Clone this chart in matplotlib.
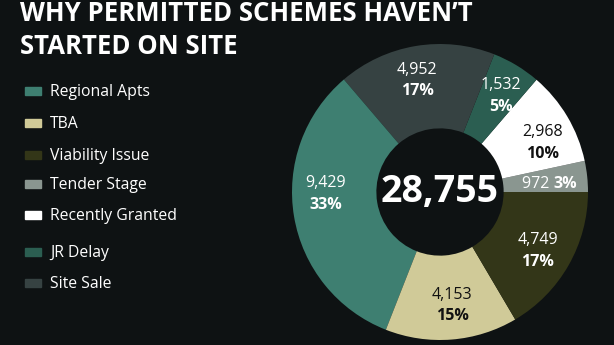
import numpy as np
import matplotlib.pyplot as plt

# data, counterclockwise from 3 o'clock
categories = ['Tender Stage', 'Recently Granted', 'JR Delay', 'Site Sale',
              'Regional Apts', 'TBA', 'Viability Issue']
values = [972, 2968, 1532, 4952, 9429, 4153, 4749]
percents = [3, 10, 5, 17, 33, 15, 17]   # as printed on the chart
colours = ['#8a9690', '#ffffff', '#2b5e51', '#364242',
           '#3e7f71', '#d0ca98', '#333618']
text_dark = [False, True, False, False, False, True, False]
label_nudge = [-2, -5, -1, 2, -8.5, 1.5, -1.5]   # degrees, label placement tweak
legend_order = ['Regional Apts', 'TBA', 'Viability Issue', 'Tender Stage',
                'Recently Granted', 'JR Delay', 'Site Sale']
legend_y = [91, 123, 155, 184, 215, 252, 283]  # pixel rows

bg = '#0e1213'
plt.rcParams['font.family'] = ['Open Sans', 'DejaVu Sans']

W, H = 614, 345
fig = plt.figure(figsize=(W / 100, H / 100), dpi=100, facecolor=bg)

# title
fig.text(20 / W, 1 - 21 / H, 'WHY PERMITTED SCHEMES HAVEN\u2019T', color='white',
         fontsize=18.5, fontweight='bold', va='baseline', ha='left')
fig.text(20 / W, 1 - 54 / H, 'STARTED ON SITE', color='white',
         fontsize=18.5, fontweight='bold', va='baseline', ha='left')

# legend
for name, y in zip(legend_order, legend_y):
    c = colours[categories.index(name)]
    fig.patches.append(plt.Rectangle((25 / W, 1 - (y + 4) / H), 16 / W, 8 / H,
                                     transform=fig.transFigure, color=c))
    fig.text(50 / W, 1 - (y + 1) / H, name, color='white', fontsize=11.3,
             va='center', ha='left')

# donut
cx, cy, R = 440, 192, 148
ax = fig.add_axes([(cx - R) / W, (H - cy - R) / H, 2 * R / W, 2 * R / H])
ax.set_facecolor(bg)
wedges, _ = ax.pie(values, colors=colours, startangle=0, counterclock=True,
                   radius=1, wedgeprops=dict(width=0.57, linewidth=0))
ax.set_xlim(-1, 1)
ax.set_ylim(-1, 1)
ax.axis('off')

total = sum(values)
ax.text(0, 0, f'{total:,}', color='white', fontsize=27, fontweight='bold',
        ha='center', va='center')

for w, v, p, dark, nudge in zip(wedges, values, percents, text_dark, label_nudge):
    ang = np.deg2rad((w.theta1 + w.theta2) / 2 + nudge)
    x, y = 0.77 * np.cos(ang), 0.77 * np.sin(ang)
    col = '#111111' if dark else 'white'
    if v < 1500:
        ax.text(x, y, f'{v:,} ', color=col, fontsize=11.5, ha='right', va='center')
        ax.text(x, y, f'{p}%', color=col, fontsize=11.5, fontweight='bold',
                ha='left', va='center')
    else:
        ax.text(x, y + 0.072, f'{v:,}', color=col, fontsize=11.5, ha='center', va='center')
        ax.text(x, y - 0.075, f'{p}%', color=col, fontsize=11.5, fontweight='bold',
                ha='center', va='center')

fig.savefig('out.png', dpi=100, facecolor=bg)
